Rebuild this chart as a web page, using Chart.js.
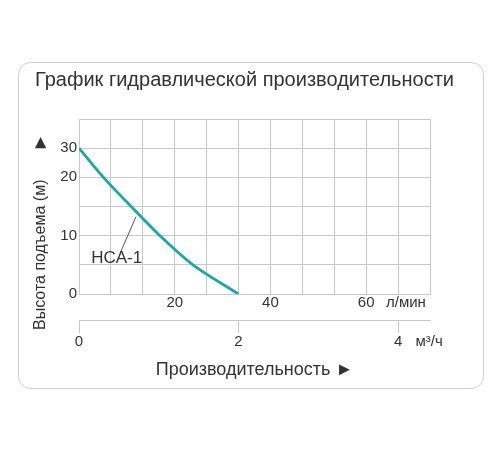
<!DOCTYPE html>
<html><head><meta charset="utf-8">
<script src="https://cdn.jsdelivr.net/npm/chart.js@4"></script>
<style>html,body{margin:0;padding:0;background:#fff}#wrap{width:500px;height:450px;position:relative}</style>
</head><body><div id="wrap"><canvas id="c"></canvas></div>
<script>
// ---- texts ----
const chartTitle = 'График гидравлической производительности';
const yAxisTitle = 'Высота подъема (м)';
const xAxisTitle = 'Производительность ►';
const seriesName = 'HCA-1';
const unitLmin = 'л/мин';
const unitM3h = 'м³/ч';

// ---- curve HCA-1: flow (л/мин) vs head (м) ----
const flowLmin = [0, 5.1, 10.9, 16.9, 23.8, 33.3];
const headM    = [30, 20, 15, 10, 5, 0];

// ---- y axis: metres at each grid row of the drawing (scale step changes above 20 m) ----
const headGridM = [0, 5, 10, 15, 20, 30, 40];
const headTickValues = [0, 10, 20, 30];

// ---- x axes ----
const flowGridM3h = [0, 0.4, 0.8, 1.2, 1.6, 2.0, 2.4, 2.8, 3.2, 3.6, 4.0, 4.4];
const lminTickValues = [20, 40, 60];
const lminUnitAt = 68.3;
const m3hTickValues = [0, 2, 4];
const m3hUnitAt = 4.39;

// ---- leader line for series label ----
const leaderFlow = [8.6, 11.9];
const leaderHead = [7.0, 13.25];
const labelFlow = 7.87, labelHead = 6.17;

const LMIN_PER_M3H = 1000 / 60;
const textColor = '#333';
const gridColor = '#c8c8c8';
Chart.defaults.font.family = "'Liberation Sans', Arial, sans-serif";
Chart.defaults.color = textColor;

class HeadScale extends Chart.LinearScale {
  static id = 'headScale';
  static defaults = Chart.LinearScale.defaults;
  _frac(v) {
    const g = headGridM, n = g.length - 1;
    if (v <= g[0]) return 0;
    for (let i = 0; i < n; i++) {
      if (v <= g[i + 1]) return (i + (v - g[i]) / (g[i + 1] - g[i])) / n;
    }
    return 1;
  }
  getPixelForValue(v) { return this.getPixelForDecimal(this._frac(v)); }
  getValueForPixel(p) {
    const n = headGridM.length - 1;
    const d = this.getDecimalForPixel(p) * n;
    const i = Math.max(0, Math.min(Math.floor(d), n - 1));
    return headGridM[i] + (d - i) * (headGridM[i + 1] - headGridM[i]);
  }
}
Chart.register(HeadScale);

const near = (a, b) => Math.abs(a - b) < 1e-6;

const cardPlugin = {
  id: 'card',
  beforeDraw(chart) {
    const ctx = chart.ctx;
    ctx.save();
    ctx.beginPath();
    ctx.roundRect(18.5, 62.5, 465, 326, 12);
    ctx.fillStyle = '#fff';
    ctx.fill();
    ctx.strokeStyle = '#cfcfcf';
    ctx.lineWidth = 1;
    ctx.stroke();
    ctx.restore();
  }
};

const textPlugin = {
  id: 'extraText',
  afterDatasetsDraw(chart) {
    const ctx = chart.ctx, xs = chart.scales.x, ys = chart.scales.y;
    ctx.save();
    ctx.fillStyle = textColor;
    // series label
    ctx.font = "17px 'Liberation Sans', Arial";
    ctx.textAlign = 'center';
    ctx.textBaseline = 'middle';
    ctx.fillText(seriesName, xs.getPixelForValue(labelFlow), ys.getPixelForValue(labelHead));
    // y axis title (rotated)
    ctx.translate(41, 330);
    ctx.rotate(-Math.PI / 2);
    ctx.textAlign = 'left';
    ctx.font = "16px 'Liberation Sans', Arial";
    ctx.fillText(yAxisTitle, 0, 0);
    ctx.font = "19px 'Liberation Sans', Arial";
    ctx.fillText('►', 178, 0);
    ctx.restore();
  }
};

const curveData = flowLmin.map((f, i) => ({x: f, y: headM[i]}));
const leaderData = leaderFlow.map((f, i) => ({x: f, y: leaderHead[i]}));

new Chart(document.getElementById('c'), {
  type: 'line',
  data: {
    datasets: [
      {label: seriesName, data: curveData, borderColor: '#1ca8a2', borderWidth: 2.8,
       pointRadius: 0, tension: 0.3, fill: false},
      {label: 'leader', data: leaderData, borderColor: '#555', borderWidth: 1,
       pointRadius: 0, tension: 0, fill: false}
    ]
  },
  options: {
    responsive: true,
    maintainAspectRatio: false,
    animation: false,
    events: [],
    layout: {padding: {left: 35, right: 15, top: 0, bottom: 60}},
    plugins: {
      legend: {display: false},
      tooltip: {enabled: false},
      title: {display: true, text: chartTitle, align: 'start', color: textColor,
              font: {size: 20, weight: 'normal'}, padding: {top: 68, bottom: 27}}
    },
    scales: {
      x: {
        type: 'linear', position: 'bottom', min: 0, max: 4.4 * LMIN_PER_M3H,
        afterBuildTicks(s) {
          s.ticks = flowGridM3h.map(q => ({value: q * LMIN_PER_M3H}))
            .concat([{value: lminUnitAt}]).sort((a, b) => a.value - b.value);
        },
        afterFit(s) { s.height = 26; },
        ticks: {
          autoSkip: false, maxRotation: 0, padding: 0, color: textColor, font: {size: 15},
          callback(v) {
            if (near(v, lminUnitAt)) return unitLmin;
            const hit = lminTickValues.find(t => Math.abs(t - v) < 1e-3);
            return hit !== undefined ? String(hit) : '';
          }
        },
        grid: {
          drawTicks: false, lineWidth: 1,
          color: c => (c.tick && near(c.tick.value, lminUnitAt)) ? 'rgba(0,0,0,0)' : gridColor
        },
        border: {display: true, color: gridColor}
      },
      x2: {
        type: 'linear', position: 'bottom', min: 0, max: 4.4,
        afterBuildTicks(s) {
          s.ticks = m3hTickValues.map(v => ({value: v})).concat([{value: m3hUnitAt}]);
        },
        afterFit(s) { s.height = 70; },
        ticks: {
          autoSkip: false, maxRotation: 0, padding: 0, color: textColor, font: {size: 15},
          callback(v) { return near(v, m3hUnitAt) ? unitM3h : String(v); }
        },
        grid: {
          drawOnChartArea: false, drawTicks: true, tickLength: 13,
          tickColor: c => (c.tick && near(c.tick.value, m3hUnitAt)) ? 'rgba(0,0,0,0)' : gridColor
        },
        border: {display: true, color: gridColor},
        title: {display: true, text: xAxisTitle, color: textColor, font: {size: 18},
                padding: {top: 0, bottom: 9.2}}
      },
      y: {
        type: 'headScale', position: 'left', min: 0, max: 40,
        afterBuildTicks(s) { s.ticks = headGridM.map(v => ({value: v})); },
        afterFit(s) { s.width = 44; },
        ticks: {
          autoSkip: false, padding: 2, color: textColor, font: {size: 15},
          callback(v) { return headTickValues.includes(v) ? String(v) : ''; }
        },
        grid: {drawTicks: false, color: gridColor, lineWidth: 1},
        border: {display: true, color: gridColor}
      },
      yR: {
        type: 'linear', position: 'right', display: true,
        afterFit(s) { s.width = 55; },
        ticks: {display: false},
        grid: {display: false},
        border: {display: false}
      }
    }
  },
  plugins: [cardPlugin, textPlugin]
});
</script>
</body></html>
